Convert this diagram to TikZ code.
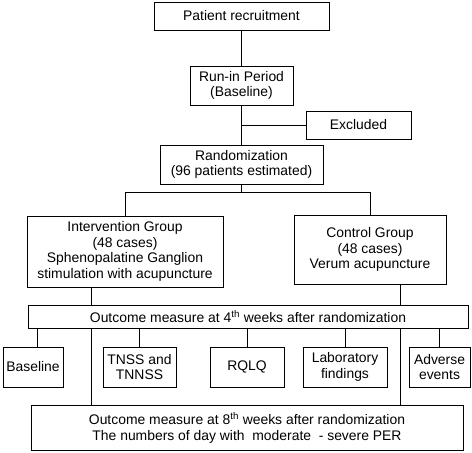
\documentclass[tikz,border=0pt]{standalone}
\usepackage{fontspec}
\setmainfont{Liberation Sans}
\begin{document}
\begin{tikzpicture}[x=1pt,y=-1pt,line width=0.9pt,
            box/.style={draw, align=center, inner sep=0pt,
              font=\fontsize{13.9}{15.6}\selectfont}]
            \useasboundingbox (0,0) rectangle (472,453);

            \node[box, minimum width=175pt, minimum height=28pt] (recruit) at (241.5,16) {Patient recruitment};
            \node[box, minimum width=103pt, minimum height=39pt] (runin) at (241.5,85.5) {Run-in Period\\(Baseline)};
            \node[box, minimum width=105pt, minimum height=28pt] (excluded) at (358.5,125) {Excluded};
            \node[box, minimum width=163pt, minimum height=39pt] (random) at (241.5,164.5) {Randomization\\(96 patients estimated)};
            \node[box, minimum width=196pt, minimum height=71pt] (interv) at (125,251.5)
              {Intervention Group\\(48 cases)\\Sphenopalatine Ganglion\\stimulation with acupuncture};
            \node[box, minimum width=152pt, minimum height=69pt] (control) at (370,249.5)
              {Control Group\\(48 cases)\\Verum acupuncture};
            \node[box, minimum width=440pt, minimum height=23pt] (week4) at (248,316.5)
              {Outcome measure at 4\textsuperscript{th} weeks after randomization};

            % outcomes
            \node[box, minimum width=60pt, minimum height=40pt] (baseline) at (33,367) {Baseline};
            \node[box, minimum width=73pt, minimum height=40pt] (tnss) at (139.5,367) {TNSS and\\TNNSS};
            \node[box, minimum width=74pt, minimum height=40pt] (rqlq) at (247,367) {RQLQ};
            \node[box, minimum width=84pt, minimum height=40pt] (lab) at (345,367) {Laboratory\\findings};
            \node[box, minimum width=61pt, minimum height=40pt] (adverse) at (439.5,367) {Adverse\\events};

            \node[box, minimum width=432pt, minimum height=45pt] (week8) at (247,427.5)
              {Outcome measure at 8\textsuperscript{th} weeks after randomization\\The numbers of day with\ \ moderate\ \ - severe PER};

            \coordinate (lx) at (91,0);
            \coordinate (rx) at (400,0);

            \draw (recruit) -- (runin);
            \draw (runin) -- (random);
            \draw (runin.south |- excluded.west) -- (excluded.west);
            \draw (random.south) -- ++(0,8) coordinate (split);
            \draw (interv.north) |- (split) -| (control.north);
            \draw (interv.south -| lx) -- (week4.north -| lx);
            \draw (control.south -| rx) -- (week4.north -| rx);
            \draw (week4.south -| lx) -- (week8.north -| lx);
            \draw (week4.south -| rx) -- (week8.north -| rx);
            \draw ([xshift=4pt]baseline.north) -- ([xshift=4pt]baseline.north |- week4.south);
            \foreach \n in {tnss, rqlq, lab, adverse}
              \draw (\n.north) -- (\n.north |- week4.south);
          \end{tikzpicture}
\end{document}
